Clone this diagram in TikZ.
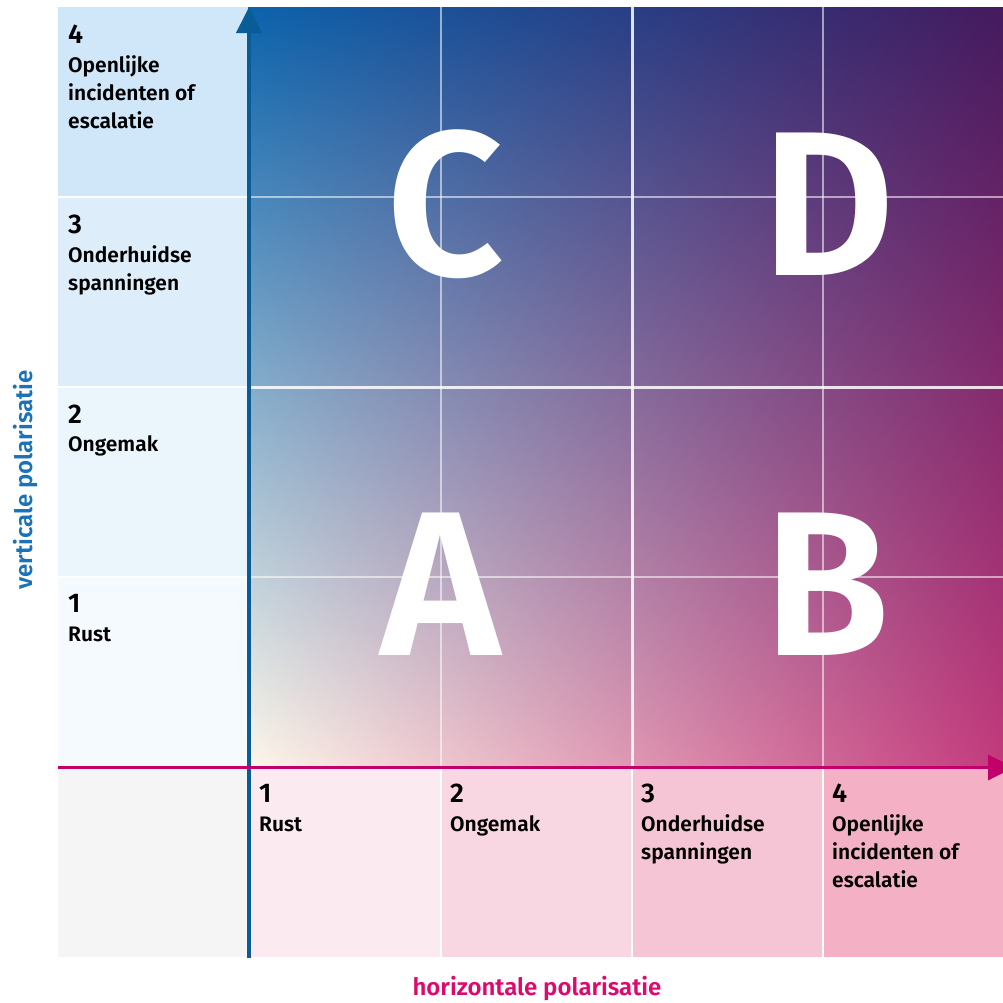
\documentclass[tikz,border=0pt]{standalone}
\usepackage{fontspec}
\setmainfont{Fira Sans}[BoldFont={Fira Sans SemiBold}]
\usetikzlibrary{arrows.meta, positioning, shadings}

% kleuren
\definecolor{asblauw}{HTML}{0A5C96}
\definecolor{asroze}{HTML}{C2006B}
\definecolor{titelblauw}{HTML}{1A72B8}
\definecolor{titelroze}{HTML}{DC0A6E}
\definecolor{vakgrijs}{HTML}{F5F5F5}
\definecolor{vblauwA}{HTML}{F5FAFF}
\definecolor{vblauwB}{HTML}{EAF5FC}
\definecolor{vblauwC}{HTML}{DDEEFA}
\definecolor{vblauwD}{HTML}{CFE7F8}
\definecolor{hrozeA}{HTML}{FBEBF0}
\definecolor{hrozeB}{HTML}{F8D7E2}
\definecolor{hrozeC}{HTML}{F5C4D5}
\definecolor{hrozeD}{HTML}{F4B0C5}
\definecolor{hoekLB}{HTML}{0B63AC}
\definecolor{hoekRB}{HTML}{451A5E}
\definecolor{hoekLO}{HTML}{FDF7EA}
\definecolor{hoekRO}{HTML}{C33A7C}

\begin{document}
\begin{tikzpicture}[
    x=1pt, y=-1pt,
    nummer/.style={anchor=base west, inner sep=0pt, font=\bfseries\fontsize{27}{28}\selectfont},
    % ankerpunt = basislijn van de laatste regel
    label/.style={anchor=base west, inner sep=0pt, align=left, font=\bfseries\fontsize{21}{28}\selectfont},
    letter/.style={anchor=base, inner sep=0pt, text=white, font=\bfseries\fontsize{206}{206}\selectfont},
    titel/.style={anchor=base, inner sep=0pt, font=\bfseries\fontsize{24}{26}\selectfont},
    dunlijn/.style={white, line width=1.5pt, opacity=0.55},
    diklijn/.style={white, line width=3pt, opacity=0.85},
    scheiding/.style={white, line width=2pt}
]
\useasboundingbox (0,0) rectangle (1003,1002);

% vakken links en onder
\fill[vblauwD] (58,7) rectangle (248,197);
\fill[vblauwC] (58,197) rectangle (248,387);
\fill[vblauwB] (58,387) rectangle (248,577);
\fill[vblauwA] (58,577) rectangle (248,768);
\fill[vakgrijs] (58,768) rectangle (248,957);
\fill[hrozeA] (248,768) rectangle (441,957);
\fill[hrozeB] (441,768) rectangle (632,957);
\fill[hrozeC] (632,768) rectangle (823,957);
\fill[hrozeD] (823,768) rectangle (1003,957);
\foreach \y in {197,387,577}
    \draw[scheiding] (58,\y) -- (248,\y);
\foreach \x in {441,632,823}
    \draw[scheiding] (\x,768) -- (\x,957);

% kwadranten
\shade[upper left=hoekLB, upper right=hoekRB, lower left=hoekLO, lower right=hoekRO]
    (248,7) rectangle (1003,768);
\foreach \x in {441,823}
    \draw[dunlijn] (\x,7) -- (\x,768);
\foreach \y in {197,577}
    \draw[dunlijn] (248,\y) -- (1003,\y);
\draw[diklijn] (632,7) -- (632,768);
\draw[diklijn] (248,387) -- (1003,387);

\node[letter] (qc) at (445,275) {C};
\node[letter] (qd) at (828,275) {D};
\node[letter] (qa) at (441,655) {A};
\node[letter] (qb) at (827,655) {B};

% assen
\coordinate (yvoet) at (249,958);
\coordinate (ytop) at (249,7);
\coordinate (xvoet) at (58,767.5);
\coordinate (xtop) at (1014,767.5);
\draw[asblauw, line width=4pt, -{Triangle[width=25pt, length=26pt]}] (yvoet) -- (ytop);
\draw[asroze, line width=3.5pt, -{Triangle[width=25pt, length=26pt]}] (xvoet) -- (xtop);

% niveaus verticaal
\node[nummer] (v4) at (68,43) {4};
\node[label] (v4t) at (68,128) {Openlijke\\incidenten of\\escalatie};
\node[nummer] (v3) at (68,233) {3};
\node[label] (v3t) at (68,290) {Onderhuidse\\spanningen};
\node[nummer] (v2) at (68,423) {2};
\node[label] (v2t) at (68,451) {Ongemak};
\node[nummer] (v1) at (68,612) {1};
\node[label] (v1t) at (68,641) {Rust};

% niveaus horizontaal
\node[nummer] (h1) at (259,802) {1};
\node[label] (h1t) at (259,831) {Rust};
\node[nummer] (h2) at (450,802) {2};
\node[label] (h2t) at (450,831) {Ongemak};
\node[nummer] (h3) at (641,802) {3};
\node[label] (h3t) at (641,859) {Onderhuidse\\spanningen};
\node[nummer] (h4) at (832,802) {4};
\node[label] (h4t) at (832,887) {Openlijke\\incidenten of\\escalatie};

% astitels
\node[titel, text=titelblauw, rotate=90] (vtitel) at (32,480) {verticale polarisatie};
\node[titel, text=titelroze] (htitel) at (537,995) {horizontale polarisatie};

\end{tikzpicture}
\end{document}
